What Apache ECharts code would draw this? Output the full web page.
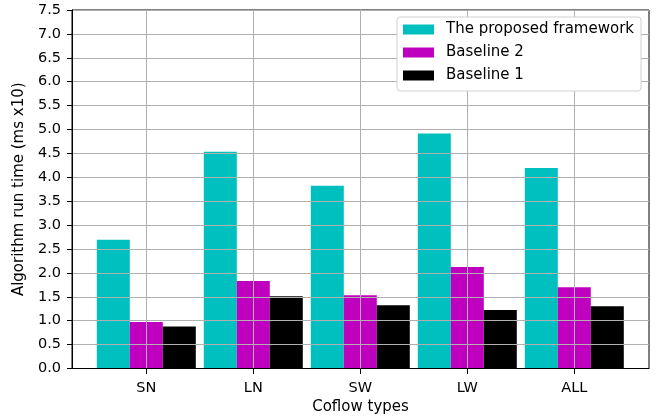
<!DOCTYPE html>
<html><head><meta charset="utf-8">
<script src="https://cdn.jsdelivr.net/npm/echarts@6/dist/echarts.min.js"></script>
<style>html,body{margin:0;padding:0;background:#fff}#c{width:657px;height:420px}</style>
</head><body><div id="c"></div>
<script>
const categories = ['SN', 'LN', 'SW', 'LW', 'ALL'];
const proposed = [2.70, 4.54, 3.83, 4.92, 4.20];
const baseline2 = [0.98, 1.84, 1.54, 2.13, 1.71];
const baseline1 = [0.89, 1.52, 1.33, 1.23, 1.31];
const seriesNames = ['The proposed framework', 'Baseline 2', 'Baseline 1'];
const colors = ['#00bfbf', '#bf00bf', '#000000'];

const F = 'DejaVu Sans';
const chart = echarts.init(document.getElementById('c'), null, {renderer: 'canvas'});
const mk = (name, data, color) => ({
  name, type: 'bar', data, xAxisIndex: 1, yAxisIndex: 1,
  barWidth: 33, barGap: '0%', clip: false, z: 2,
  itemStyle: {color}
});
chart.setOption({
  animation: false,
  textStyle: {fontFamily: F},
  grid: [
    {left: 72, right: 8, top: 10, bottom: 51, show: true, borderColor: '#000', borderWidth: 1, backgroundColor: 'transparent'},
    {left: 146.3, right: 82.7, top: 10, bottom: 51}
  ],
  xAxis: [
    {type: 'value', gridIndex: 0, min: 0, max: 1, z: 10,
     name: 'Coflow types', nameLocation: 'middle', nameGap: 31.5,
     nameTextStyle: {fontFamily: F, fontSize: 15, color: '#000'},
     axisLine: {show: true, lineStyle: {color: '#000', width: 1}},
     axisTick: {show: false}, axisLabel: {show: false}, splitLine: {show: false}},
    {type: 'category', gridIndex: 1, data: categories, boundaryGap: false, z: 10,
     axisLine: {show: false},
     axisTick: {show: true, length: 5, lineStyle: {color: '#000'}},
     axisLabel: {show: true, color: '#000', fontFamily: F, fontSize: 14.5, margin: 12},
     splitLine: {show: true, lineStyle: {color: '#b0b0b0', width: 1}}}
  ],
  yAxis: [
    {type: 'value', gridIndex: 0, min: 0, max: 7.5, interval: 0.5, z: 10,
     name: 'Algorithm run time (ms x10)', nameLocation: 'middle', nameGap: 42,
     nameTextStyle: {fontFamily: F, fontSize: 15, color: '#000'},
     axisLine: {show: true, lineStyle: {color: '#000', width: 1}},
     axisTick: {show: true, length: 5, lineStyle: {color: '#000'}},
     axisLabel: {color: '#000', fontFamily: F, fontSize: 14.5, margin: 11, formatter: v => v.toFixed(1)},
     splitLine: {show: true, lineStyle: {color: '#b0b0b0', width: 1}}},
    {type: 'value', gridIndex: 1, min: 0, max: 7.5, show: false, splitLine: {show: false}}
  ],
  legend: {
    data: seriesNames, orient: 'vertical', right: 16, top: 17,
    icon: 'rect', itemWidth: 31, itemHeight: 10, itemGap: 8,
    backgroundColor: '#fff', borderColor: '#d0d0d0', borderWidth: 1, borderRadius: 3,
    padding: [5, 7, 8, 6], z: 20,
    textStyle: {fontFamily: F, fontSize: 15, color: '#000', padding: [0, 0, 0, 7]}
  },
  series: [
    mk(seriesNames[0], proposed, colors[0]),
    mk(seriesNames[1], baseline2, colors[1]),
    mk(seriesNames[2], baseline1, colors[2])
  ]
});
</script></body></html>
